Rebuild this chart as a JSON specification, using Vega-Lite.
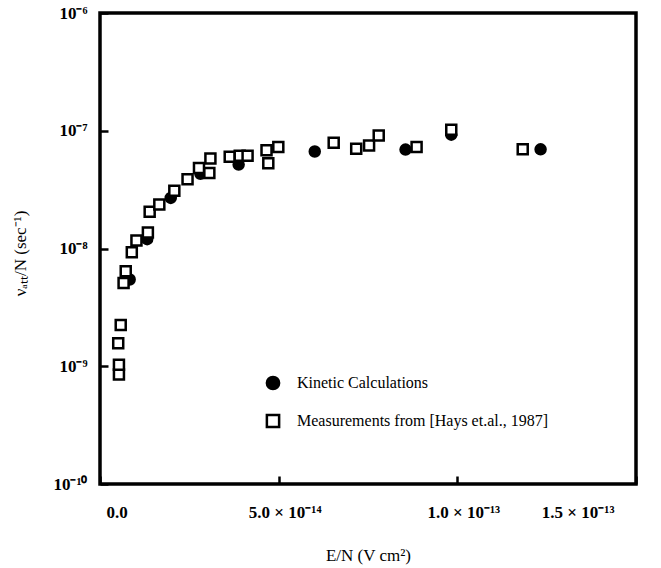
{
  "$schema": "https://vega.github.io/schema/vega-lite/v6.json",
  "autosize": "none",
  "width": 536,
  "height": 471,
  "padding": {"left": 100, "top": 13, "right": 25, "bottom": 84},
  "background": "white",
  "config": {
    "view": {"stroke": "black", "strokeWidth": 3.5},
    "font": "Liberation Serif",
    "axis": {"grid": false, "domain": false, "labelFont": "Liberation Serif", "titleFont": "Liberation Serif", "labelColor": "black", "titleColor": "black", "tickColor": "black"},
    "legend": {"title": null, "orient": "none", "legendX": 165, "legendY": 362, "symbolSize": 150, "symbolStrokeWidth": 2.5, "labelFont": "Liberation Serif", "labelFontSize": 16, "labelColor": "black", "labelLimit": 0, "rowPadding": 14, "labelOffset": 16}
  },
  "data": {
    "values": [
      {"series": "Kinetic Calculations", "en": 8.3e-15, "nu": 5.45e-9},
      {"series": "Kinetic Calculations", "en": 1.32e-14, "nu": 1.2e-8},
      {"series": "Kinetic Calculations", "en": 1.98e-14, "nu": 2.69e-8},
      {"series": "Kinetic Calculations", "en": 2.81e-14, "nu": 4.31e-8},
      {"series": "Kinetic Calculations", "en": 3.88e-14, "nu": 5.16e-8},
      {"series": "Kinetic Calculations", "en": 6.01e-14, "nu": 6.67e-8},
      {"series": "Kinetic Calculations", "en": 8.55e-14, "nu": 6.92e-8},
      {"series": "Kinetic Calculations", "en": 9.83e-14, "nu": 9.27e-8},
      {"series": "Kinetic Calculations", "en": 1.233e-13, "nu": 6.95e-8},
      {"series": "Measurements from [Hays et.al., 1987]", "en": 5.3e-15, "nu": 8.5e-10},
      {"series": "Measurements from [Hays et.al., 1987]", "en": 5.3e-15, "nu": 1.03e-9},
      {"series": "Measurements from [Hays et.al., 1987]", "en": 5.1e-15, "nu": 1.57e-9},
      {"series": "Measurements from [Hays et.al., 1987]", "en": 5.8e-15, "nu": 2.24e-9},
      {"series": "Measurements from [Hays et.al., 1987]", "en": 6.6e-15, "nu": 5.1e-9},
      {"series": "Measurements from [Hays et.al., 1987]", "en": 7.2e-15, "nu": 6.4e-9},
      {"series": "Measurements from [Hays et.al., 1987]", "en": 8.9e-15, "nu": 9.3e-9},
      {"series": "Measurements from [Hays et.al., 1987]", "en": 1.02e-14, "nu": 1.17e-8},
      {"series": "Measurements from [Hays et.al., 1987]", "en": 1.34e-14, "nu": 1.37e-8},
      {"series": "Measurements from [Hays et.al., 1987]", "en": 1.39e-14, "nu": 2.05e-8},
      {"series": "Measurements from [Hays et.al., 1987]", "en": 1.66e-14, "nu": 2.36e-8},
      {"series": "Measurements from [Hays et.al., 1987]", "en": 2.08e-14, "nu": 3.1e-8},
      {"series": "Measurements from [Hays et.al., 1987]", "en": 2.45e-14, "nu": 3.87e-8},
      {"series": "Measurements from [Hays et.al., 1987]", "en": 2.77e-14, "nu": 4.82e-8},
      {"series": "Measurements from [Hays et.al., 1987]", "en": 3.06e-14, "nu": 4.38e-8},
      {"series": "Measurements from [Hays et.al., 1987]", "en": 3.09e-14, "nu": 5.82e-8},
      {"series": "Measurements from [Hays et.al., 1987]", "en": 3.63e-14, "nu": 6.0e-8},
      {"series": "Measurements from [Hays et.al., 1987]", "en": 3.91e-14, "nu": 6.12e-8},
      {"series": "Measurements from [Hays et.al., 1987]", "en": 4.13e-14, "nu": 6.12e-8},
      {"series": "Measurements from [Hays et.al., 1987]", "en": 4.66e-14, "nu": 6.82e-8},
      {"series": "Measurements from [Hays et.al., 1987]", "en": 4.71e-14, "nu": 5.3e-8},
      {"series": "Measurements from [Hays et.al., 1987]", "en": 4.99e-14, "nu": 7.26e-8},
      {"series": "Measurements from [Hays et.al., 1987]", "en": 6.54e-14, "nu": 7.9e-8},
      {"series": "Measurements from [Hays et.al., 1987]", "en": 7.17e-14, "nu": 7.05e-8},
      {"series": "Measurements from [Hays et.al., 1987]", "en": 7.53e-14, "nu": 7.5e-8},
      {"series": "Measurements from [Hays et.al., 1987]", "en": 7.8e-14, "nu": 9.1e-8},
      {"series": "Measurements from [Hays et.al., 1987]", "en": 8.86e-14, "nu": 7.26e-8},
      {"series": "Measurements from [Hays et.al., 1987]", "en": 9.83e-14, "nu": 1.02e-7},
      {"series": "Measurements from [Hays et.al., 1987]", "en": 1.183e-13, "nu": 6.95e-8}
    ]
  },
  "mark": {"type": "point", "filled": true, "size": 100, "strokeWidth": 2.5, "opacity": 1},
  "encoding": {
    "x": {
      "field": "en", "type": "quantitative",
      "scale": {"domain": [0, 1.5e-13], "nice": false, "zero": true},
      "axis": {
        "values": [0, 5e-14, 1e-13, 1.5e-13],
        "labelExpr": "datum.value == 0 ? '0.0' : datum.value < 7e-14 ? '5.0 × 10⁻¹⁴' : datum.value < 1.2e-13 ? '1.0 × 10⁻¹³' : '1.5 × 10⁻¹³'",
        "tickSize": -8, "tickWidth": 2.5,
        "labelPadding": 28, "labelFontSize": 17, "labelFontWeight": "bold",
        "labelOffset": {"condition": {"test": "datum.value > 1.4e-13", "value": -22}, "value": 6},
        "title": "E/N (V cm²)", "titleFontSize": 17, "titleFontWeight": "normal",
        "titleX": 268, "titleY": 71, "titleBaseline": "middle", "titleAlign": "center"
      }
    },
    "y": {
      "field": "nu", "type": "quantitative",
      "scale": {"type": "log", "domain": [1e-10, 1e-6], "nice": false},
      "axis": {
        "values": [1e-10, 1e-9, 1e-8, 1e-7, 1e-6],
        "labelExpr": "datum.value < 5e-10 ? '10⁻¹⁰' : datum.value < 5e-9 ? '10⁻⁹' : datum.value < 5e-8 ? '10⁻⁸' : datum.value < 5e-7 ? '10⁻⁷' : '10⁻⁶'",
        "tickSize": -8, "tickWidth": 2.5,
        "labelPadding": 21, "labelFontSize": 17, "labelFontWeight": "bold",
        "title": "νₐₜₜ/N (sec⁻¹)", "titleFontSize": 17, "titleFontWeight": "normal",
        "titleX": -80, "titleY": 240, "titleBaseline": "middle", "titleAlign": "center", "titleAngle": -90
      }
    },
    "shape": {
      "field": "series", "type": "nominal",
      "scale": {"domain": ["Kinetic Calculations", "Measurements from [Hays et.al., 1987]"], "range": ["circle", "square"]}
    },
    "fill": {
      "field": "series", "type": "nominal",
      "scale": {"domain": ["Kinetic Calculations", "Measurements from [Hays et.al., 1987]"], "range": ["black", "white"]}
    },
    "stroke": {
      "field": "series", "type": "nominal",
      "scale": {"domain": ["Kinetic Calculations", "Measurements from [Hays et.al., 1987]"], "range": ["black", "black"]}
    }
  }
}
